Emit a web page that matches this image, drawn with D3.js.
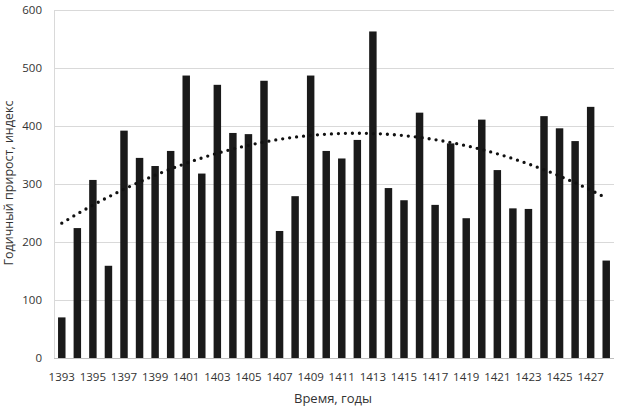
<!DOCTYPE html>
<html><head><meta charset="utf-8">
<script src="https://cdn.jsdelivr.net/npm/d3@7/dist/d3.min.js"></script>
<style>body{margin:0;background:#fff}svg{display:block}text{font-family:"Open Sans",sans-serif;fill:#333}</style>
</head><body><svg id="c" width="618" height="407"></svg>
<script>
const years = d3.range(1393, 1429);
const values = [70,224,307,159,392,345,331,357,487,318,471,388,386,478,219,279,487,357,344,376,563,293,272,423,264,370,241,411,324,258,257,417,396,374,433,168];
const yTicks = [0,100,200,300,400,500,600];
const xTickLabels = years.filter(y => (y - 1393) % 2 === 0);
const yTitle = "Годичный прирост, индекс";
const xTitle = "Время, годы";

const svg = d3.select("#c");
const L = 54, R = 614, T = 10, B = 358;
const x = d3.scaleBand().domain(years).range([L, R]).paddingInner(0.52).paddingOuter(0.26);
const y = d3.scaleLinear().domain([0, 600]).range([B, T]);

// gridlines
svg.append("g").selectAll("line").data(yTicks.filter(d => d > 0)).join("line")
  .attr("x1", L).attr("x2", R).attr("y1", d => y(d)).attr("y2", d => y(d))
  .attr("stroke", "#d9d9d9").attr("stroke-width", 1).attr("shape-rendering", "crispEdges");
// left axis line
svg.append("line").attr("x1", L).attr("x2", L).attr("y1", T).attr("y2", B)
  .attr("stroke", "#d9d9d9").attr("shape-rendering", "crispEdges");

// bars
svg.append("g").selectAll("rect").data(years).join("rect")
  .attr("x", (d) => x(d)).attr("width", x.bandwidth())
  .attr("y", (d, i) => y(values[i])).attr("height", (d, i) => B - y(values[i]))
  .attr("fill", "#1a1a1a");

// bottom axis line
svg.append("line").attr("x1", L).attr("x2", R).attr("y1", B).attr("y2", B)
  .attr("stroke", "#bfbfbf").attr("shape-rendering", "crispEdges");

// polynomial (order 2) trendline - least squares fit of the bars
const xs = years.map((d, i) => i + 1);
let S = [0,0,0,0,0], Ty = [0,0,0];
xs.forEach((xv, i) => { for (let k = 0; k < 5; k++) S[k] += Math.pow(xv, k); for (let k = 0; k < 3; k++) Ty[k] += values[i] * Math.pow(xv, k); });
function solve3(A, b) {
  const M = A.map((r, i) => [...r, b[i]]);
  for (let c = 0; c < 3; c++) {
    let p = c; for (let r = c + 1; r < 3; r++) if (Math.abs(M[r][c]) > Math.abs(M[p][c])) p = r;
    [M[c], M[p]] = [M[p], M[c]];
    for (let r = 0; r < 3; r++) if (r !== c) { const f = M[r][c] / M[c][c]; for (let k = c; k < 4; k++) M[r][k] -= f * M[c][k]; }
  }
  return M.map((r, i) => r[3] / r[i]);
}
const coef = solve3([[S[0],S[1],S[2]],[S[1],S[2],S[3]],[S[2],S[3],S[4]]], Ty);
const trend = xs.map(xv => coef[0] + coef[1]*xv + coef[2]*xv*xv);
const line = d3.line().x((d, i) => x(years[i]) + x.bandwidth()/2).y(d => y(d)).curve(d3.curveMonotoneX);
svg.append("path").datum(trend).attr("d", line).attr("fill", "none")
  .attr("stroke", "#111").attr("stroke-width", 3.3).attr("stroke-linecap", "round")
  .attr("stroke-dasharray", "0 7");

// y tick labels
svg.append("g").selectAll("text").data(yTicks).join("text")
  .attr("x", 42).attr("y", d => y(d)).attr("dy", "0.35em").attr("text-anchor", "end")
  .attr("font-size", 11.5).text(d => d);
// x tick labels
svg.append("g").selectAll("text").data(xTickLabels).join("text")
  .attr("x", d => x(d) + x.bandwidth()/2).attr("y", 377).attr("dy", "0.35em").attr("text-anchor", "middle")
  .attr("font-size", 11.5).text(d => d);

// titles
svg.append("text").attr("transform", "translate(9,183) rotate(-90)").attr("text-anchor", "middle")
  .attr("dy", "0.35em").attr("font-size", 12.5).text(yTitle);
svg.append("text").attr("x", 333).attr("y", 398).attr("text-anchor", "middle").attr("dy", "0.35em")
  .attr("font-size", 13).text(xTitle);
</script></body></html>
